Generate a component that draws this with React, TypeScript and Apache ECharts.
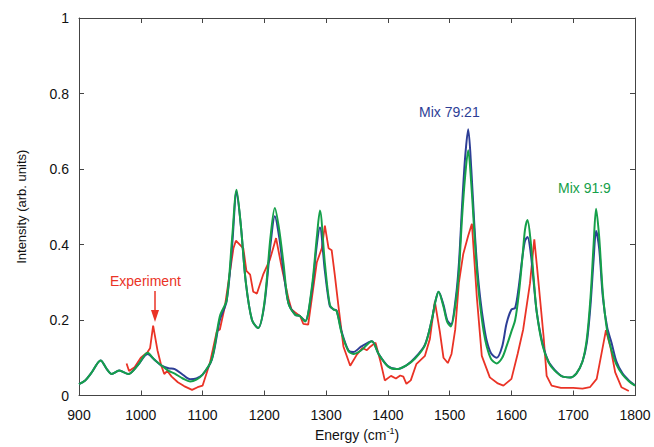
import React, { useEffect, useRef } from "react";
import * as echarts from "echarts";

const mixEnergy = [900, 910, 920, 935, 945, 953, 965, 980, 995, 1011, 1022, 1033, 1045, 1055, 1068, 1080, 1090, 1100, 1115, 1128, 1139, 1148, 1155, 1162, 1170, 1180, 1190, 1200, 1210, 1217, 1224, 1231, 1239, 1250, 1258, 1266, 1277, 1285, 1290, 1298, 1306, 1312, 1317, 1325, 1336, 1344, 1357, 1374, 1385, 1400, 1414, 1430, 1444, 1460, 1471, 1477, 1482, 1490, 1496, 1502, 1510, 1515, 1520, 1525, 1530, 1535, 1540, 1545, 1550, 1555, 1560, 1567, 1576, 1585, 1592, 1600, 1606, 1612, 1618, 1622, 1626, 1631, 1636, 1641, 1650, 1660, 1670, 1683, 1695, 1705, 1715, 1722, 1728, 1733, 1737, 1742, 1748, 1755, 1762, 1770, 1780, 1790, 1800];

const mix7921 = [0.03, 0.04, 0.06, 0.093, 0.07, 0.057, 0.066, 0.057, 0.08, 0.11, 0.095, 0.08, 0.072, 0.07, 0.055, 0.043, 0.045, 0.055, 0.095, 0.2, 0.25, 0.4, 0.54, 0.45, 0.3, 0.2, 0.179, 0.24, 0.4, 0.475, 0.42, 0.33, 0.245, 0.214, 0.21, 0.197, 0.28, 0.4, 0.445, 0.33, 0.237, 0.228, 0.225, 0.17, 0.12, 0.115, 0.13, 0.144, 0.11, 0.078, 0.07, 0.08, 0.1, 0.135, 0.2, 0.25, 0.275, 0.24, 0.2, 0.188, 0.26, 0.35, 0.5, 0.63, 0.705, 0.6, 0.45, 0.33, 0.25, 0.19, 0.145, 0.112, 0.1, 0.13, 0.19, 0.228, 0.232, 0.29, 0.37, 0.41, 0.42, 0.38, 0.3, 0.22, 0.14, 0.09, 0.068, 0.05, 0.048, 0.058, 0.09, 0.14, 0.24, 0.36, 0.436, 0.39, 0.26, 0.18, 0.14, 0.09, 0.058, 0.04, 0.027];

const mix919 = [0.03, 0.04, 0.06, 0.093, 0.07, 0.057, 0.066, 0.057, 0.08, 0.113, 0.095, 0.08, 0.065, 0.058, 0.045, 0.037, 0.042, 0.055, 0.096, 0.21, 0.253, 0.42, 0.545, 0.45, 0.3, 0.2, 0.179, 0.245, 0.42, 0.497, 0.44, 0.35, 0.244, 0.214, 0.21, 0.196, 0.288, 0.42, 0.49, 0.35, 0.24, 0.228, 0.224, 0.166, 0.118, 0.11, 0.12, 0.144, 0.11, 0.077, 0.07, 0.08, 0.098, 0.133, 0.2, 0.25, 0.275, 0.235, 0.195, 0.183, 0.25, 0.33, 0.47, 0.58, 0.65, 0.56, 0.43, 0.31, 0.23, 0.17, 0.13, 0.097, 0.085, 0.1, 0.13, 0.17, 0.2, 0.27, 0.37, 0.44, 0.465, 0.41, 0.31, 0.22, 0.135, 0.088, 0.066, 0.05, 0.048, 0.058, 0.09, 0.15, 0.26, 0.4, 0.495, 0.42, 0.27, 0.17, 0.12, 0.082, 0.055, 0.038, 0.026];

const expEnergy = [977, 981, 990, 1000, 1011, 1015, 1020, 1027, 1033, 1038, 1043, 1050, 1060, 1070, 1083, 1092, 1100, 1112, 1123, 1128, 1136, 1150, 1154, 1166, 1171, 1177, 1182, 1188, 1198, 1209, 1219, 1228, 1239, 1244, 1250, 1258, 1263, 1271, 1285, 1293, 1298, 1304, 1309, 1314, 1320, 1328, 1339, 1350, 1359, 1366, 1372, 1380, 1388, 1395, 1405, 1413, 1420, 1425, 1430, 1437, 1446, 1460, 1468, 1476, 1484, 1490, 1497, 1503, 1509, 1515, 1522, 1530, 1536, 1544, 1552, 1565, 1578, 1587, 1600, 1610, 1619, 1630, 1637, 1642, 1652, 1657, 1665, 1680, 1700, 1715, 1727, 1738, 1746, 1753, 1760, 1768, 1778, 1790];

const expIntensity = [0.085, 0.065, 0.075, 0.1, 0.115, 0.125, 0.185, 0.12, 0.08, 0.057, 0.065, 0.05, 0.035, 0.025, 0.015, 0.022, 0.026, 0.087, 0.17, 0.175, 0.235, 0.39, 0.41, 0.39, 0.33, 0.32, 0.275, 0.27, 0.32, 0.36, 0.417, 0.34, 0.257, 0.228, 0.22, 0.21, 0.19, 0.188, 0.353, 0.39, 0.45, 0.39, 0.385, 0.32, 0.236, 0.13, 0.079, 0.109, 0.126, 0.12, 0.13, 0.14, 0.09, 0.04, 0.052, 0.045, 0.053, 0.05, 0.031, 0.04, 0.083, 0.105, 0.15, 0.249, 0.17, 0.1, 0.086, 0.11, 0.175, 0.3, 0.375, 0.423, 0.455, 0.26, 0.105, 0.048, 0.032, 0.026, 0.044, 0.11, 0.175, 0.297, 0.414, 0.33, 0.157, 0.052, 0.026, 0.02, 0.02, 0.018, 0.022, 0.044, 0.113, 0.173, 0.13, 0.061, 0.022, 0.012];

const xTicks = [900, 1000, 1100, 1200, 1300, 1400, 1500, 1600, 1700, 1800];
const yTicks = [0, 0.2, 0.4, 0.6, 0.8, 1];

const RED = "#ea3326";
const BLUE = "#2d3e96";
const GREEN = "#15a04a";
const AXIS = "#444";
const FONT = "Liberation Sans, Arial, Helvetica, sans-serif";

export default function App() {
  const ref = useRef<HTMLDivElement>(null);
  useEffect(() => {
    if (!ref.current) return;
    const chart = echarts.init(ref.current, null, { renderer: "svg" });
    const zip = (xs: number[], ys: number[]) => xs.map((x, i) => [x, ys[i]]);
    const axisCommon = {
      axisLine: { show: true, onZero: false, lineStyle: { color: AXIS, width: 1 } },
      axisTick: { show: true, inside: true, length: 5, lineStyle: { color: AXIS } },
      splitLine: { show: false },
    };
    chart.setOption({
      animation: false,
      backgroundColor: "#fff",
      textStyle: { fontFamily: FONT },
      grid: { left: 79, right: 19, top: 18, bottom: 47 },
      xAxis: [
        {
          type: "value",
          min: 900,
          max: 1800,
          interval: 100,
          ...axisCommon,
          axisLabel: {
            color: "#111",
            fontSize: 14,
            fontFamily: FONT,
            margin: 12,
            formatter: (v: number) => (xTicks.includes(v) ? String(v) : ""),
          },
          name: "{a|Energy (cm}{s|-1}{a|)}",
          nameLocation: "middle",
          nameGap: 31,
          nameTextStyle: {
            rich: {
              a: { fontSize: 14, color: "#111", fontFamily: FONT },
              s: { fontSize: 9, color: "#111", fontFamily: FONT, verticalAlign: "top", padding: [0, 0, 8, 0] },
            },
          },
        },
        {
          type: "value",
          min: 900,
          max: 1800,
          interval: 100,
          position: "top",
          ...axisCommon,
          axisLabel: { show: false },
        },
      ],
      yAxis: [
        {
          type: "value",
          min: 0,
          max: 1,
          interval: 0.2,
          ...axisCommon,
          axisLabel: {
            color: "#111",
            fontSize: 14,
            fontFamily: FONT,
            margin: 10,
            formatter: (v: number) => {
              const t = yTicks.find((y) => Math.abs(y - v) < 1e-9);
              return t === undefined ? "" : String(t);
            },
          },
          name: "Intensity (arb. units)",
          nameLocation: "middle",
          nameGap: 51,
          nameTextStyle: { fontSize: 13, color: "#111", fontFamily: FONT },
        },
        {
          type: "value",
          min: 0,
          max: 1,
          interval: 0.2,
          position: "right",
          ...axisCommon,
          axisLabel: { show: false },
        },
      ],
      series: [
        {
          name: "Experiment",
          type: "line",
          data: zip(expEnergy, expIntensity),
          showSymbol: false,
          lineStyle: { color: RED, width: 1.8 },
          z: 2,
        },
        {
          name: "Mix 79:21",
          type: "line",
          data: zip(mixEnergy, mix7921),
          showSymbol: false,
          smooth: 0.3,
          lineStyle: { color: BLUE, width: 2 },
          z: 3,
        },
        {
          name: "Mix 91:9",
          type: "line",
          data: zip(mixEnergy, mix919),
          showSymbol: false,
          smooth: 0.3,
          lineStyle: { color: GREEN, width: 2 },
          z: 4,
        },
      ],
      graphic: [
        {
          type: "text",
          left: 110,
          top: 274,
          style: { text: "Experiment", fill: RED, fontSize: 14, fontFamily: FONT },
        },
        {
          type: "line",
          shape: { x1: 155, y1: 291, x2: 155, y2: 312 },
          style: { stroke: RED, lineWidth: 1.5 },
        },
        {
          type: "polygon",
          shape: { points: [[151, 310], [159, 310], [155, 322]] },
          style: { fill: RED },
        },
        {
          type: "text",
          left: 419,
          top: 105,
          style: { text: "Mix 79:21", fill: BLUE, fontSize: 14, fontFamily: FONT },
        },
        {
          type: "text",
          left: 558,
          top: 181,
          style: { text: "Mix 91:9", fill: GREEN, fontSize: 14, fontFamily: FONT },
        },
      ],
    });
    return () => chart.dispose();
  }, []);
  return (
    <div
      ref={ref}
      style={{ position: "fixed", left: 0, top: 0, width: 654, height: 447, background: "#fff" }}
    />
  );
}
